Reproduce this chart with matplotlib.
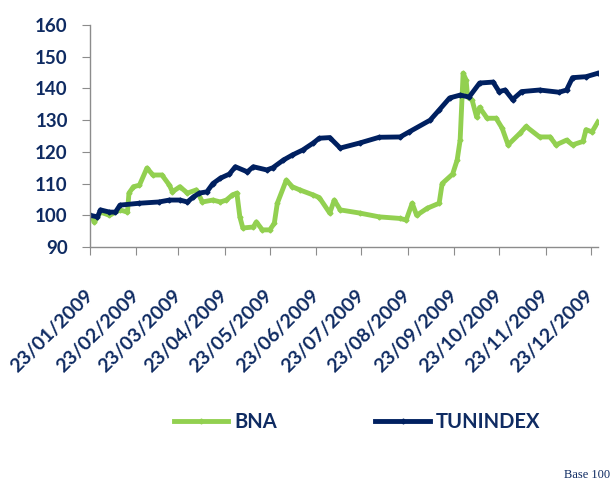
import matplotlib
matplotlib.use("Agg")
import matplotlib.pyplot as plt
import pandas as pd

bna_dates = ["2009-01-23", "2009-01-26", "2009-01-30", "2009-02-05", "2009-02-12", "2009-02-17",
             "2009-02-18", "2009-02-21", "2009-02-25", "2009-03-02", "2009-03-06", "2009-03-12",
             "2009-03-17", "2009-03-19", "2009-03-24", "2009-03-29", "2009-04-04", "2009-04-08",
             "2009-04-15", "2009-04-20", "2009-04-24", "2009-04-28", "2009-05-01", "2009-05-03",
             "2009-05-05", "2009-05-12", "2009-05-14", "2009-05-18", "2009-05-23", "2009-05-26",
             "2009-05-28", "2009-06-03", "2009-06-07", "2009-06-12", "2009-06-21", "2009-06-25",
             "2009-07-02", "2009-07-05", "2009-07-09", "2009-07-22", "2009-08-04", "2009-08-18",
             "2009-08-22", "2009-08-26", "2009-08-29", "2009-09-05", "2009-09-13", "2009-09-15",
             "2009-09-22", "2009-09-25", "2009-09-27", "2009-09-29", "2009-10-01", "2009-10-02",
             "2009-10-05", "2009-10-08", "2009-10-10", "2009-10-15", "2009-10-21", "2009-10-25",
             "2009-10-29", "2009-11-06", "2009-11-10", "2009-11-19", "2009-11-26", "2009-11-30",
             "2009-12-07", "2009-12-11", "2009-12-18", "2009-12-20", "2009-12-24", "2009-12-28"]
bna_values = [100.0, 97.9, 101.0, 100.0, 101.7, 101.0,
              107.0, 109.0, 109.5, 114.9, 112.7, 112.7,
              109.5, 107.4, 109.0, 107.0, 108.0, 104.2,
              104.8, 104.2, 104.8, 106.4, 107.0, 99.5,
              96.0, 96.3, 97.9, 95.4, 95.4, 97.5,
              103.8, 111.1, 109.0, 108.0, 106.4, 105.6,
              100.7, 104.8, 101.7, 100.7, 99.5, 99.0,
              98.5, 103.8, 100.0, 102.2, 103.8, 110.0,
              113.0, 117.4, 123.7, 144.8, 142.6, 137.3,
              136.3, 131.0, 134.0, 130.6, 130.6, 127.5,
              122.2, 125.9, 128.0, 124.7, 124.7, 122.2,
              123.7, 122.2, 123.3, 127.0, 126.3, 129.5]

tun_dates = ["2009-01-23", "2009-01-28", "2009-01-30", "2009-02-05", "2009-02-09", "2009-02-12",
             "2009-02-25", "2009-03-10", "2009-03-17", "2009-03-24", "2009-03-29", "2009-04-02",
             "2009-04-06", "2009-04-11", "2009-04-15", "2009-04-20", "2009-04-26", "2009-04-30",
             "2009-05-08", "2009-05-12", "2009-05-21", "2009-05-25", "2009-06-01", "2009-06-07",
             "2009-06-14", "2009-06-21", "2009-06-25", "2009-07-02", "2009-07-09", "2009-07-22",
             "2009-08-04", "2009-08-18", "2009-08-24", "2009-09-07", "2009-09-13", "2009-09-20",
             "2009-09-27", "2009-10-03", "2009-10-10", "2009-10-19", "2009-10-23", "2009-10-27",
             "2009-11-01", "2009-11-07", "2009-11-19", "2009-12-02", "2009-12-07", "2009-12-11",
             "2009-12-20", "2009-12-28"]
tun_values = [100.0, 99.5, 101.7, 101.0, 101.0, 103.2,
              103.8, 104.2, 104.8, 104.8, 104.2, 105.8,
              107.0, 107.4, 110.0, 111.7, 113.0, 115.3,
              113.7, 115.3, 114.3, 115.0, 117.4, 119.0,
              120.6, 122.8, 124.3, 124.5, 121.2, 122.8,
              124.6, 124.7, 126.3, 130.0, 133.2, 137.0,
              137.9, 137.3, 141.7, 142.0, 139.0, 139.5,
              136.5, 139.0, 139.5, 138.8, 139.5, 143.4,
              143.7, 144.8]

tick_labels = ["23/01/2009", "23/02/2009", "23/03/2009", "23/04/2009", "23/05/2009", "23/06/2009",
               "23/07/2009", "23/08/2009", "23/09/2009", "23/10/2009", "23/11/2009", "23/12/2009"]
y_ticks = [90, 100, 110, 120, 130, 140, 150, 160]

NAVY_TXT = "#0F2B62"
GREEN = "#92D050"
NAVY = "#002060"
FONT = "Lato"

fig = plt.figure(figsize=(6.13, 4.82), dpi=100)
ax = fig.add_axes([90 / 613, 1 - 247 / 482, (598 - 90) / 613, (247 - 25) / 482])

bx = pd.to_datetime(bna_dates)
tx = pd.to_datetime(tun_dates)
ax.plot(bx, bna_values, color=GREEN, lw=3.5, marker="D", ms=2.5, label="BNA", solid_joinstyle="round")
ax.plot(tx, tun_values, color=NAVY, lw=3.5, marker="D", ms=2.5, label="TUNINDEX", solid_joinstyle="round")

ticks = pd.to_datetime(tick_labels, format="%d/%m/%Y")
ax.set_xticks(ticks)
ax.set_xticklabels(tick_labels, rotation=45, ha="right", va="center", rotation_mode="anchor",
                   fontsize=14, fontweight="bold", color=NAVY_TXT, family=FONT)
ax.set_xlim(pd.Timestamp("2009-01-23"), pd.Timestamp("2009-12-28"))
ax.set_ylim(90, 160)
ax.set_yticks(y_ticks)
ax.set_yticklabels([str(v) for v in y_ticks], fontsize=13.5, fontweight="bold", color=NAVY_TXT, family=FONT)

for s in ["top", "right"]:
    ax.spines[s].set_visible(False)
for s in ["left", "bottom"]:
    ax.spines[s].set_color("#8C8C8C")
    ax.spines[s].set_linewidth(1.0)
ax.tick_params(axis="y", length=6, color="#8C8C8C", pad=10)
ax.tick_params(axis="x", length=6, color="#8C8C8C", pad=27)

leg = fig.legend(loc="center", bbox_to_anchor=(357 / 613, 1 - 422 / 482), ncol=2, frameon=False,
                 handlelength=2.7, handletextpad=0.3, columnspacing=4.9,
                 prop={"family": FONT, "weight": "bold", "size": 14.5})
for t in leg.get_texts():
    t.set_color(NAVY_TXT)

fig.text(610 / 613, 1 - 475 / 482, "Base 100", ha="right", va="center", fontsize=9,
         family="Liberation Serif", color=NAVY_TXT)

fig.savefig("out.png", dpi=100)
